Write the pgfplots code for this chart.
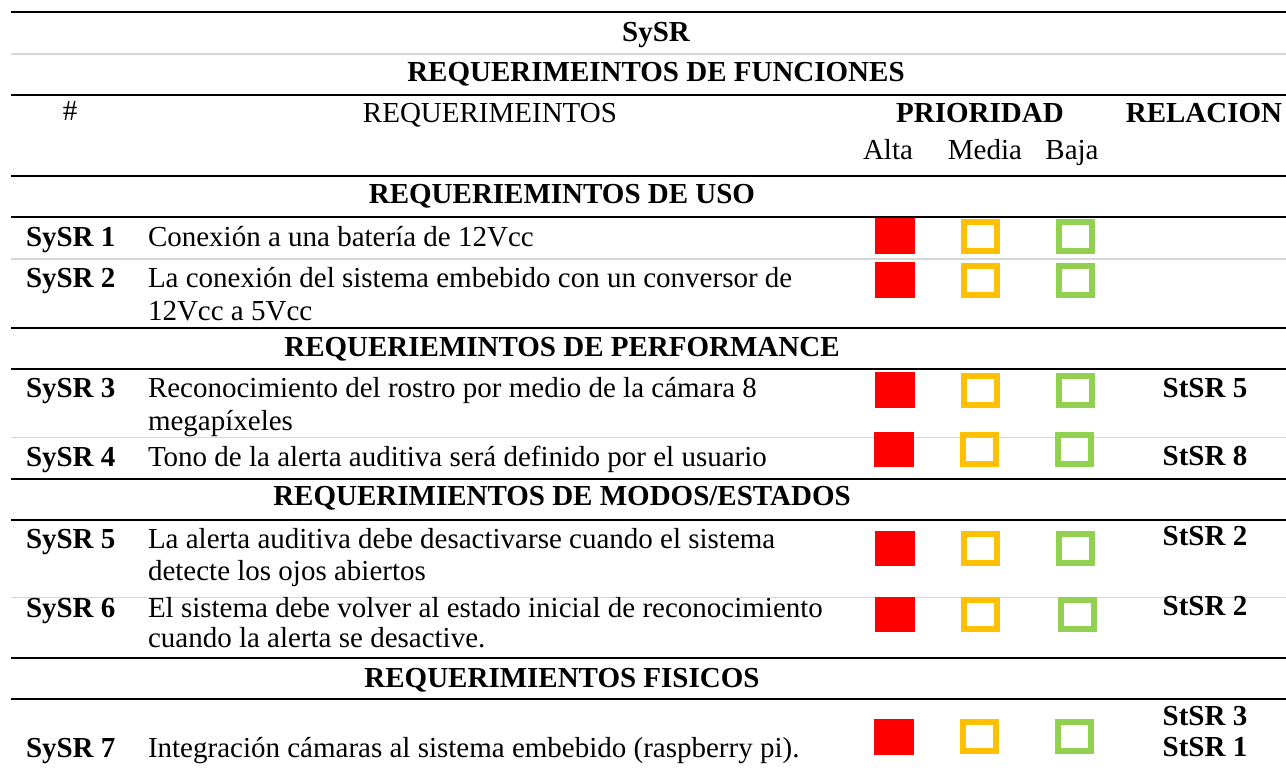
\documentclass[border=0pt]{standalone}
\usepackage{pgfplots}
\pgfplotsset{compat=1.18}
\usepackage{fontspec}
\setmainfont{Liberation Serif}
\definecolor{cred}{HTML}{FF0000}
\definecolor{corange}{HTML}{FFC000}
\definecolor{cgreen}{HTML}{92D050}
\definecolor{rulegray}{HTML}{D6D6D6}
\begin{document}
\fontsize{29}{32}\selectfont
\begin{tikzpicture}[x=1pt,y=1pt, every node/.append style={inner sep=0pt, outer sep=0pt}]
\path[use as bounding box] (0,0) rectangle (1286,774);
\begin{axis}[at={(0,0)}, anchor=south west, scale only axis,
  width=1286pt, height=774pt,
  xmin=0, xmax=1286, ymin=0, ymax=774, y dir=reverse,
  hide axis, clip=false]
% black rules
\pgfplotsinvokeforeach{12,95,175.7,216.7,327.7,369,479,520,657.7,699.3}{
  \addplot[black, line width=2pt, no markers] coordinates {(11,#1) (1286,#1)};
}
% gray rules
\pgfplotsinvokeforeach{54,259,437.7,597.7}{
  \addplot[rulegray, line width=1.5pt, no markers] coordinates {(11,#1) (1286,#1)};
}
% Alta (filled red)
\addplot[only marks, mark=square*, mark size=19.5pt,
  mark options={fill=cred, draw=cred, line width=0pt, yscale=0.897}]
  coordinates {(894.5,236) (894.5,280) (894.5,390) (893.5,449.5) (894.5,548.5) (894.5,614.5) (893.5,736.5)};
% Media (orange outline)
\addplot[only marks, mark=square, mark size=16.5pt,
  mark options={draw=corange, line width=6pt, yscale=0.879}]
  coordinates {(980.5,236) (980.5,280) (980.5,390) (979.5,449.5) (980.5,548.5) (980.5,614.5) (979.5,736.5)};
% Baja (green outline)
\addplot[only marks, mark=square, mark size=16.5pt,
  mark options={draw=cgreen, line width=6pt, yscale=0.879}]
  coordinates {(1075.5,236) (1075.5,280) (1075.5,390) (1074.5,449.5) (1075.5,548.5) (1077.5,614.5) (1074.5,736.5)};

% headers
\node[anchor=base, font=\bfseries] at (axis cs:656,41) {SySR};
\node[anchor=base, font=\bfseries] at (axis cs:656,81) {REQUERIMEINTOS DE FUNCIONES};
\node[anchor=base] at (axis cs:70,120) {\#};
\node[anchor=base] at (axis cs:490,122) {REQUERIMEINTOS};
\node[anchor=base, font=\bfseries] at (axis cs:980,122) {PRIORIDAD};
\node[anchor=base, font=\bfseries] at (axis cs:1204,122) {RELACION};
\node[anchor=base] at (axis cs:888,159) {Alta};
\node[anchor=base] at (axis cs:985,159) {Media};
\node[anchor=base] at (axis cs:1072,159) {Baja};

% section headers
\node[anchor=base, font=\bfseries] at (axis cs:562,203) {REQUERIEMINTOS DE USO};
\node[anchor=base, font=\bfseries] at (axis cs:562,356) {REQUERIEMINTOS DE PERFORMANCE};
\node[anchor=base, font=\bfseries] at (axis cs:562,505) {REQUERIMIENTOS DE MODOS/ESTADOS};
\node[anchor=base, font=\bfseries] at (axis cs:562,687) {REQUERIMIENTOS FISICOS};

% ids
\node[anchor=base west, font=\bfseries] at (axis cs:26,246) {SySR 1};
\node[anchor=base west, font=\bfseries] at (axis cs:26,287) {SySR 2};
\node[anchor=base west, font=\bfseries] at (axis cs:26,397) {SySR 3};
\node[anchor=base west, font=\bfseries] at (axis cs:26,466) {SySR 4};
\node[anchor=base west, font=\bfseries] at (axis cs:26,548) {SySR 5};
\node[anchor=base west, font=\bfseries] at (axis cs:26,617) {SySR 6};
\node[anchor=base west, font=\bfseries] at (axis cs:26,757) {SySR 7};

% descriptions
\node[anchor=base west] at (axis cs:148,246) {Conexión a una batería de 12Vcc};
\node[anchor=base west] at (axis cs:148,287) {La conexión del sistema embebido con un conversor de};
\node[anchor=base west] at (axis cs:148,320) {12Vcc a 5Vcc};
\node[anchor=base west] at (axis cs:148,397) {Reconocimiento del rostro por medio de la cámara 8};
\node[anchor=base west] at (axis cs:148,430) {megapíxeles};
\node[anchor=base west] at (axis cs:148,466) {Tono de la alerta auditiva será definido por el usuario};
\node[anchor=base west] at (axis cs:148,548) {La alerta auditiva debe desactivarse cuando el sistema};
\node[anchor=base west] at (axis cs:148,580) {detecte los ojos abiertos};
\node[anchor=base west] at (axis cs:148,617) {El sistema debe volver al estado inicial de reconocimiento};
\node[anchor=base west] at (axis cs:148,647) {cuando la alerta se desactive.};
\node[anchor=base west] at (axis cs:148,757) {Integración cámaras al sistema embebido (raspberry pi).};

% relations
\node[anchor=base, font=\bfseries] at (axis cs:1205,397) {StSR 5};
\node[anchor=base, font=\bfseries] at (axis cs:1205,465) {StSR 8};
\node[anchor=base, font=\bfseries] at (axis cs:1205,545) {StSR 2};
\node[anchor=base, font=\bfseries] at (axis cs:1205,615) {StSR 2};
\node[anchor=base, font=\bfseries] at (axis cs:1205,725) {StSR 3};
\node[anchor=base, font=\bfseries] at (axis cs:1205,756) {StSR 1};
\end{axis}
\end{tikzpicture}
\end{document}
